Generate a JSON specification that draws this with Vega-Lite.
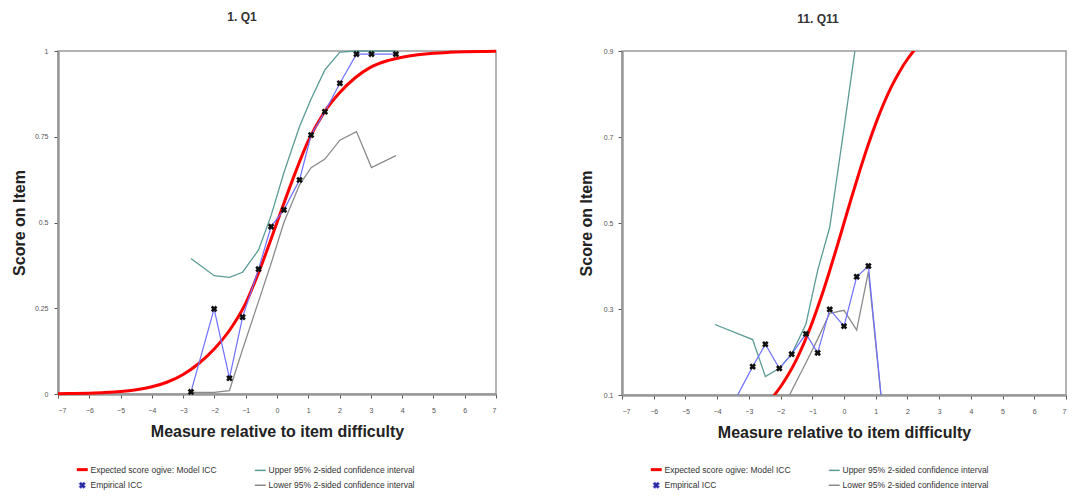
{
  "$schema": "https://vega.github.io/schema/vega-lite/v6.json",
  "padding": {"left": 10, "top": 10, "right": 3, "bottom": 0},
  "config": {
    "font": "Liberation Sans",
    "view": {"stroke": "#9a9a9a", "strokeWidth": 1.5},
    "axis": {"domainColor": "#999999", "domainWidth": 2.5, "tickColor": "#555555", "tickSize": 4, "tickWidth": 1, "labelFontSize": 7, "labelColor": "#555555", "titleFontSize": 16, "titleFontWeight": "bold", "titleColor": "#222222", "grid": false},
    "title": {"fontSize": 12, "fontWeight": "bold", "color": "#333333", "offset": 21},
    "legend": {"orient": "none", "columns": 2, "columnPadding": 34, "rowPadding": 4, "labelFontSize": 8.5, "labelColor": "#333333", "symbolType": "stroke", "symbolSize": 120, "symbolStrokeWidth": 1.5, "labelLimit": 300, "padding": 0, "titleFontSize": 0}
  },
  "datasets": {
    "model1": [
      {"s": "model", "x": -7, "y": 0.001}, {"s": "model", "x": -6.5, "y": 0.0015}, {"s": "model", "x": -6, "y": 0.0025},
      {"s": "model", "x": -5.5, "y": 0.0042}, {"s": "model", "x": -5, "y": 0.0072}, {"s": "model", "x": -4.5, "y": 0.0125},
      {"s": "model", "x": -4, "y": 0.021}, {"s": "model", "x": -3.5, "y": 0.035}, {"s": "model", "x": -3, "y": 0.057},
      {"s": "model", "x": -2.5, "y": 0.089}, {"s": "model", "x": -2, "y": 0.132}, {"s": "model", "x": -1.5, "y": 0.188},
      {"s": "model", "x": -1, "y": 0.265}, {"s": "model", "x": -0.5, "y": 0.375}, {"s": "model", "x": 0, "y": 0.5},
      {"s": "model", "x": 0.5, "y": 0.625}, {"s": "model", "x": 1, "y": 0.738}, {"s": "model", "x": 1.5, "y": 0.82},
      {"s": "model", "x": 2, "y": 0.878}, {"s": "model", "x": 2.5, "y": 0.922}, {"s": "model", "x": 3, "y": 0.953},
      {"s": "model", "x": 3.5, "y": 0.971}, {"s": "model", "x": 4, "y": 0.982}, {"s": "model", "x": 4.5, "y": 0.989},
      {"s": "model", "x": 5, "y": 0.9935}, {"s": "model", "x": 5.5, "y": 0.996}, {"s": "model", "x": 6, "y": 0.9976},
      {"s": "model", "x": 6.5, "y": 0.9986}, {"s": "model", "x": 7, "y": 0.9992}
    ],
    "model11": [
      {"s": "model", "x": -4, "y": 0.018}, {"s": "model", "x": -3.5, "y": 0.029}, {"s": "model", "x": -3, "y": 0.0474},
      {"s": "model", "x": -2.75, "y": 0.0601}, {"s": "model", "x": -2.5, "y": 0.0759}, {"s": "model", "x": -2.25, "y": 0.0953},
      {"s": "model", "x": -2, "y": 0.1192}, {"s": "model", "x": -1.75, "y": 0.148}, {"s": "model", "x": -1.5, "y": 0.1824},
      {"s": "model", "x": -1.25, "y": 0.2227}, {"s": "model", "x": -1, "y": 0.2689}, {"s": "model", "x": -0.75, "y": 0.3208},
      {"s": "model", "x": -0.5, "y": 0.3775}, {"s": "model", "x": -0.25, "y": 0.4378}, {"s": "model", "x": 0, "y": 0.5},
      {"s": "model", "x": 0.25, "y": 0.5622}, {"s": "model", "x": 0.5, "y": 0.6225}, {"s": "model", "x": 0.75, "y": 0.6792},
      {"s": "model", "x": 1, "y": 0.7311}, {"s": "model", "x": 1.25, "y": 0.7773}, {"s": "model", "x": 1.5, "y": 0.8176},
      {"s": "model", "x": 1.75, "y": 0.852}, {"s": "model", "x": 2, "y": 0.8808}, {"s": "model", "x": 2.25, "y": 0.9047},
      {"s": "model", "x": 2.5, "y": 0.9241}, {"s": "model", "x": 3, "y": 0.9526}
    ],
    "q1": [
      {"s": "emp", "x": -2.75, "y": 0.006}, {"s": "emp", "x": -2.01, "y": 0.248}, {"s": "emp", "x": -1.52, "y": 0.046},
      {"s": "emp", "x": -1.1, "y": 0.224}, {"s": "emp", "x": -0.59, "y": 0.364}, {"s": "emp", "x": -0.19, "y": 0.488},
      {"s": "emp", "x": 0.22, "y": 0.537}, {"s": "emp", "x": 0.72, "y": 0.624}, {"s": "emp", "x": 1.09, "y": 0.755},
      {"s": "emp", "x": 1.53, "y": 0.823}, {"s": "emp", "x": 2.01, "y": 0.906}, {"s": "emp", "x": 2.54, "y": 0.991},
      {"s": "emp", "x": 3.02, "y": 0.991}, {"s": "emp", "x": 3.8, "y": 0.991},
      {"s": "upper", "x": -2.75, "y": 0.395}, {"s": "upper", "x": -2.01, "y": 0.345}, {"s": "upper", "x": -1.52, "y": 0.34},
      {"s": "upper", "x": -1.1, "y": 0.355}, {"s": "upper", "x": -0.59, "y": 0.42}, {"s": "upper", "x": -0.19, "y": 0.52},
      {"s": "upper", "x": 0.22, "y": 0.645}, {"s": "upper", "x": 0.72, "y": 0.78}, {"s": "upper", "x": 1.09, "y": 0.86},
      {"s": "upper", "x": 1.53, "y": 0.945}, {"s": "upper", "x": 2.01, "y": 0.997}, {"s": "upper", "x": 2.54, "y": 1.0},
      {"s": "upper", "x": 3.02, "y": 1.0}, {"s": "upper", "x": 3.8, "y": 1.0},
      {"s": "lower", "x": -2.75, "y": 0.005}, {"s": "lower", "x": -2.01, "y": 0.005}, {"s": "lower", "x": -1.52, "y": 0.01},
      {"s": "lower", "x": -1.1, "y": 0.13}, {"s": "lower", "x": -0.59, "y": 0.27}, {"s": "lower", "x": -0.19, "y": 0.38},
      {"s": "lower", "x": 0.22, "y": 0.5}, {"s": "lower", "x": 0.72, "y": 0.61}, {"s": "lower", "x": 1.09, "y": 0.66},
      {"s": "lower", "x": 1.53, "y": 0.685}, {"s": "lower", "x": 2.01, "y": 0.74}, {"s": "lower", "x": 2.54, "y": 0.765},
      {"s": "lower", "x": 3.02, "y": 0.66}, {"s": "lower", "x": 3.8, "y": 0.695}
    ],
    "q11": [
      {"s": "emp", "x": -4.07, "y": 0.0}, {"s": "emp", "x": -2.88, "y": 0.166}, {"s": "emp", "x": -2.48, "y": 0.218},
      {"s": "emp", "x": -2.04, "y": 0.162}, {"s": "emp", "x": -1.65, "y": 0.195}, {"s": "emp", "x": -1.2, "y": 0.242},
      {"s": "emp", "x": -0.83, "y": 0.198}, {"s": "emp", "x": -0.45, "y": 0.299}, {"s": "emp", "x": 0.0, "y": 0.26},
      {"s": "emp", "x": 0.4, "y": 0.375}, {"s": "emp", "x": 0.77, "y": 0.4}, {"s": "emp", "x": 1.3, "y": 0.0},
      {"s": "upper", "x": -4.07, "y": 0.264}, {"s": "upper", "x": -2.88, "y": 0.229}, {"s": "upper", "x": -2.48, "y": 0.143},
      {"s": "upper", "x": -2.04, "y": 0.162}, {"s": "upper", "x": -1.65, "y": 0.195}, {"s": "upper", "x": -1.2, "y": 0.265},
      {"s": "upper", "x": -0.83, "y": 0.39}, {"s": "upper", "x": -0.45, "y": 0.49}, {"s": "upper", "x": 0.0, "y": 0.72},
      {"s": "upper", "x": 0.4, "y": 0.93}, {"s": "upper", "x": 0.77, "y": 1.0}, {"s": "upper", "x": 1.3, "y": 1.0},
      {"s": "lower", "x": -4.07, "y": 0.0}, {"s": "lower", "x": -2.88, "y": 0.02}, {"s": "lower", "x": -2.48, "y": 0.03},
      {"s": "lower", "x": -2.04, "y": 0.05}, {"s": "lower", "x": -1.65, "y": 0.11}, {"s": "lower", "x": -1.2, "y": 0.175},
      {"s": "lower", "x": -0.83, "y": 0.23}, {"s": "lower", "x": -0.45, "y": 0.29}, {"s": "lower", "x": 0.0, "y": 0.297},
      {"s": "lower", "x": 0.4, "y": 0.251}, {"s": "lower", "x": 0.77, "y": 0.387}, {"s": "lower", "x": 1.3, "y": 0.0}
    ]
  },
  "spacing": 74,
  "resolve": {"scale": {"color": "independent"}, "legend": {"color": "independent"}},
  "hconcat": [
    {
      "width": 438,
      "height": 343,
      "title": {"text": "1. Q1", "dx": -35},
      "encoding": {
        "x": {"field": "x", "type": "quantitative", "scale": {"domain": [-7, 7], "nice": false, "zero": false},
              "axis": {"values": [-7, -6, -5, -4, -3, -2, -1, 0, 1, 2, 3, 4, 5, 6, 7], "title": "Measure relative to item difficulty", "labelPadding": 8, "titlePadding": 10}},
        "y": {"field": "y", "type": "quantitative", "scale": {"domain": [0, 1], "nice": false},
              "axis": {"values": [0, 0.25, 0.5, 0.75, 1], "labelExpr": "'' + datum.value", "title": "Score on Item", "labelPadding": 6, "titlePadding": 7}}
      },
      "layer": [
        {"data": {"name": "q1"}, "transform": [{"filter": "datum.s === 'upper'"}], "mark": {"type": "line", "strokeWidth": 1.3},
         "encoding": {"color": {"field": "s", "type": "nominal", "scale": {"domain": ["model", "emp", "upper", "lower"], "range": ["#ff0000", "#6f6fff", "#5a9c96", "#8a8a8a"]},
           "legend": {"legendX": 20, "legendY": 414, "title": null,
             "labelExpr": "datum.value === 'model' ? 'Expected score ogive: Model ICC' : datum.value === 'upper' ? 'Upper 95% 2-sided confidence interval' : datum.value === 'emp' ? 'Empirical ICC' : 'Lower 95% 2-sided confidence interval'",
             "encode": {"symbols": {"update": {
               "shape": {"signal": "datum.value === 'emp' ? 'cross' : 'stroke'"},
               "angle": {"signal": "datum.value === 'emp' ? 45 : 0"},
               "size": {"signal": "datum.value === 'emp' ? 45 : 120"},
               "fill": {"signal": "datum.value === 'emp' ? '#2a2a9a' : 'transparent'"},
               "strokeWidth": {"signal": "datum.value === 'model' ? 3 : datum.value === 'emp' ? 0.5 : 1.5"}}}}}}}},
        {"data": {"name": "q1"}, "transform": [{"filter": "datum.s === 'lower'"}], "mark": {"type": "line", "strokeWidth": 1.3},
         "encoding": {"color": {"field": "s", "type": "nominal"}}},
        {"data": {"name": "model1"}, "mark": {"type": "line", "strokeWidth": 3, "interpolate": "monotone"},
         "encoding": {"color": {"field": "s", "type": "nominal"}}},
        {"data": {"name": "q1"}, "transform": [{"filter": "datum.s === 'emp'"}], "mark": {"type": "line", "strokeWidth": 1.2},
         "encoding": {"color": {"field": "s", "type": "nominal"}}},
        {"data": {"name": "q1"}, "transform": [{"filter": "datum.s === 'emp'"}], "mark": {"type": "point", "shape": "cross", "angle": 45, "filled": true, "size": 45, "color": "#111111", "opacity": 1},
         "encoding": {}}
      ]
    },
    {
      "width": 444,
      "height": 344,
      "title": {"text": "11. Q11", "dx": -26},
      "encoding": {
        "x": {"field": "x", "type": "quantitative", "scale": {"domain": [-7, 7], "nice": false, "zero": false},
              "axis": {"values": [-7, -6, -5, -4, -3, -2, -1, 0, 1, 2, 3, 4, 5, 6, 7], "title": "Measure relative to item difficulty", "labelPadding": 8, "titlePadding": 10}},
        "y": {"field": "y", "type": "quantitative", "scale": {"domain": [0.1, 0.9], "nice": false, "zero": false},
              "axis": {"values": [0.1, 0.3, 0.5, 0.7, 0.9], "format": ".1f", "title": "Score on Item", "labelPadding": 5, "titlePadding": 9}}
      },
      "layer": [
        {"data": {"name": "q11"}, "transform": [{"filter": "datum.s === 'upper'"}], "mark": {"type": "line", "strokeWidth": 1.3, "clip": true},
         "encoding": {"color": {"field": "s", "type": "nominal", "scale": {"domain": ["model", "emp", "upper", "lower"], "range": ["#ff0000", "#6f6fff", "#5a9c96", "#8a8a8a"]},
           "legend": {"legendX": 30, "legendY": 414, "title": null,
             "labelExpr": "datum.value === 'model' ? 'Expected score ogive: Model ICC' : datum.value === 'upper' ? 'Upper 95% 2-sided confidence interval' : datum.value === 'emp' ? 'Empirical ICC' : 'Lower 95% 2-sided confidence interval'",
             "encode": {"symbols": {"update": {
               "shape": {"signal": "datum.value === 'emp' ? 'cross' : 'stroke'"},
               "angle": {"signal": "datum.value === 'emp' ? 45 : 0"},
               "size": {"signal": "datum.value === 'emp' ? 45 : 120"},
               "fill": {"signal": "datum.value === 'emp' ? '#2a2a9a' : 'transparent'"},
               "strokeWidth": {"signal": "datum.value === 'model' ? 3 : datum.value === 'emp' ? 0.5 : 1.5"}}}}}}}},
        {"data": {"name": "q11"}, "transform": [{"filter": "datum.s === 'lower'"}], "mark": {"type": "line", "strokeWidth": 1.3, "clip": true},
         "encoding": {"color": {"field": "s", "type": "nominal"}}},
        {"data": {"name": "model11"}, "mark": {"type": "line", "strokeWidth": 3, "interpolate": "monotone", "clip": true},
         "encoding": {"color": {"field": "s", "type": "nominal"}}},
        {"data": {"name": "q11"}, "transform": [{"filter": "datum.s === 'emp'"}], "mark": {"type": "line", "strokeWidth": 1.2, "clip": true},
         "encoding": {"color": {"field": "s", "type": "nominal"}}},
        {"data": {"name": "q11"}, "transform": [{"filter": "datum.s === 'emp'"}], "mark": {"type": "point", "shape": "cross", "angle": 45, "filled": true, "size": 45, "color": "#111111", "opacity": 1, "clip": true},
         "encoding": {}}
      ]
    }
  ]
}
